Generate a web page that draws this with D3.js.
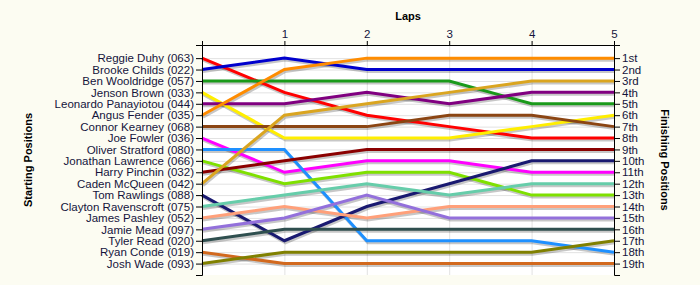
<html>
<head>
<meta charset="utf-8">
<script src="https://d3js.org/d3.v7.min.js"></script>
<style>
    body { margin: 0; background: #fcfcf2; }
    .grid line { stroke: #e2e2e2; }
    .grid .domain { stroke: none; }
    .axis text { font-family: "Liberation Sans", Arial, sans-serif; font-size: 11.5px; fill: #14143c; }
    .axis path, .axis line { stroke: #000; }
    .title { font-family: "Liberation Sans", Arial, sans-serif; font-size: 11px; font-weight: bold; }
</style>
</head>
<body>
<svg id="chart"></svg>
<script>
// drivers in starting order
const drivers = ["Reggie Duhy (063)", "Brooke Childs (022)", "Ben Wooldridge (057)", "Jenson Brown (033)",
    "Leonardo Panayiotou (044)", "Angus Fender (035)", "Connor Kearney (068)", "Joe Fowler (036)",
    "Oliver Stratford (080)", "Jonathan Lawrence (066)", "Harry Pinchin (032)", "Caden McQueen (042)",
    "Tom Rawlings (088)", "Clayton Ravenscroft (075)", "James Pashley (052)", "Jamie Mead (097)",
    "Tyler Read (020)", "Ryan Conde (019)", "Josh Wade (093)"];

const laps = [0, 1, 2, 3, 4, 5];
const lapTicks = [1, 2, 3, 4, 5];

// position of each driver after each lap (lap 0 = grid)
const positions = [
    [1, 4, 6, 7, 8, 8],
    [2, 1, 2, 2, 2, 2],
    [3, 3, 3, 3, 5, 5],
    [4, 8, 8, 8, 7, 6],
    [5, 5, 4, 5, 4, 4],
    [6, 2, 1, 1, 1, 1],
    [7, 7, 7, 6, 6, 7],
    [8, 11, 10, 10, 11, 11],
    [9, 9, 17, 17, 17, 18],
    [10, 12, 11, 11, 13, 13],
    [11, 10, 9, 9, 9, 9],
    [12, 6, 5, 4, 3, 3],
    [13, 17, 14, 12, 10, 10],
    [14, 13, 12, 13, 12, 12],
    [15, 14, 15, 14, 14, 14],
    [16, 15, 13, 15, 15, 15],
    [17, 16, 16, 16, 16, 16],
    [18, 19, 19, 19, 19, 19],
    [19, 18, 18, 18, 18, 17]
];

const colors = ["#ff0000", "#0000cd", "#1a9a1a", "#ffee00", "#800080", "#ff8c00", "#8b4513", "#ff00ff",
    "#1e90ff", "#7fe000", "#8b0000", "#daa520", "#191970", "#66cdaa", "#ffa07a", "#9370db",
    "#2f4f4f", "#d2691e", "#808000"];

const finishLabels = ["1st", "2nd", "3rd", "4th", "5th", "6th", "7th", "8th", "9th", "10th", "11th",
    "12th", "13th", "14th", "15th", "16th", "17th", "18th", "19th"];

const width = 700, height = 285;
const margins = {top: 45, right: 86, bottom: 10, left: 202};

let svg = d3.select("svg#chart")
    .attr("width", width)
    .attr("height", height);

const xScale = d3.scaleLinear()
    .domain([0, 5])
    .range([margins.left, width - margins.right]);
const yScale = d3.scaleLinear()
    .domain([-0.15, 20])
    .range([margins.top, height - margins.bottom]);

const ranks = d3.range(1, 20);

// plot background
svg.append("rect")
    .attr("x", xScale(0)).attr("y", yScale(-0.15))
    .attr("width", xScale(5) - xScale(0))
    .attr("height", yScale(20) - yScale(-0.15))
    .attr("fill", "#ffffff");

// gridlines
svg.append("g")
    .attr("class", "grid")
    .attr("transform", `translate(${xScale(0)},0)`)
    .call(d3.axisLeft(yScale).tickValues(ranks).tickSize(-(xScale(5) - xScale(0))).tickFormat(""));
svg.append("g")
    .attr("class", "grid")
    .attr("transform", `translate(0,${yScale(20)})`)
    .call(d3.axisBottom(xScale).tickValues([1, 2, 3, 4]).tickSize(-(yScale(20) - yScale(-0.15))).tickFormat(""));

// lines
const line = d3.line()
    .x((d, i) => xScale(laps[i]))
    .y(d => yScale(d));

// shadows first
svg.append("g")
    .attr("transform", "translate(1,2)")
    .selectAll("path")
    .data(positions)
    .join("path")
    .attr("d", line)
    .attr("fill", "none")
    .attr("stroke", "rgba(0,0,0,0.22)")
    .attr("stroke-width", 3);

svg.append("g")
    .selectAll("path")
    .data(positions)
    .join("path")
    .attr("d", line)
    .attr("fill", "none")
    .attr("stroke", (d, i) => colors[i])
    .attr("stroke-width", 3);

// axes
svg.append("g")
    .attr("class", "axis")
    .attr("transform", `translate(0,${yScale(-0.15)})`)
    .call(d3.axisTop(xScale).tickValues(lapTicks).tickSize(4).tickSizeOuter(4).tickFormat(d3.format("d")));

svg.append("g")
    .attr("class", "axis")
    .attr("transform", `translate(${xScale(0)},0)`)
    .call(d3.axisLeft(yScale).tickValues(ranks).tickSize(6).tickPadding(2).tickFormat(d => drivers[d - 1]));

svg.append("g")
    .attr("class", "axis")
    .attr("transform", `translate(${xScale(5)},0)`)
    .call(d3.axisRight(yScale).tickValues(ranks).tickSize(6).tickPadding(2).tickFormat(d => finishLabels[d - 1]));

// titles
svg.append("text")
    .attr("class", "title")
    .attr("x", (xScale(0) + xScale(5)) / 2)
    .attr("y", 20)
    .attr("text-anchor", "middle")
    .text("Laps");

svg.append("text")
    .attr("class", "title")
    .attr("transform", `translate(32,${(yScale(-0.15) + yScale(20)) / 2}) rotate(-90)`)
    .attr("text-anchor", "middle")
    .text("Starting Positions");

svg.append("text")
    .attr("class", "title")
    .attr("transform", `translate(661,${(yScale(-0.15) + yScale(20)) / 2}) rotate(90)`)
    .attr("text-anchor", "middle")
    .text("Finishing Positions");
</script>
</body>
</html>
